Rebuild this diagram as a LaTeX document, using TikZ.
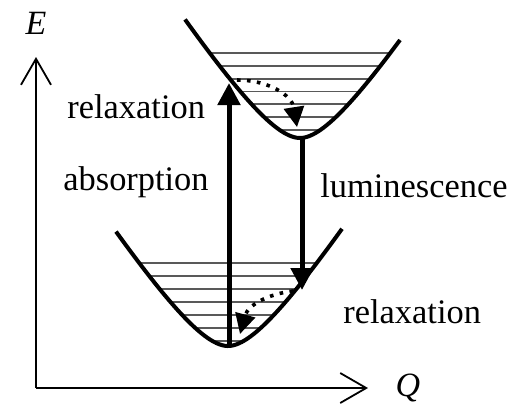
\documentclass[tikz,border=0pt]{standalone}
\usepackage{fontspec}
\setmainfont{Liberation Serif}
\usetikzlibrary{arrows.meta}
\tikzset{
  well/.style={line width=2pt},
  level/.style={black!65,line width=0.9pt},
  trans/.style={line width=2.5pt,-{Triangle[length=11pt,width=11pt]}},
  relax/.style={line width=1.8pt,dash pattern=on 1.8pt off 3.2pt,-{Triangle[length=10pt,width=10pt]}},
  axis/.style={line width=0.9pt,-{Straight Barb[length=13pt,width=15pt]}},
  lbl/.style={inner sep=0pt,anchor=base west,font=\fontsize{17.2}{20}\selectfont},
  axlbl/.style={inner sep=0pt,anchor=base,font=\fontsize{17}{19}\selectfont\itshape},
}
\begin{document}
\begin{tikzpicture}[x=0.5pt,y=-0.5pt]
\useasboundingbox (0,0) rectangle (518,403);
% vibrational levels
\foreach \yy in {53,65.8,78.6,91.4,104.2,117,129.8}{
  \pgfmathsetmacro{\h}{138-\yy}
  \pgfmathsetmacro{\d}{(0.0164*\h+sqrt((0.0164*\h)^2+4*0.02588*\h))/(2*0.02588)}
  \draw[level] (300-\d,\yy) -- (300+\d,\yy);
}
\foreach \yy in {263,276,289,302,315,328,341}{
  \pgfmathsetmacro{\h}{346-\yy}
  \pgfmathsetmacro{\d}{(0.0164*\h+sqrt((0.0164*\h)^2+4*0.02588*\h))/(2*0.02588)}
  \draw[level] (228-\d,\yy) -- (228+\d,\yy);
}
% wells
\draw[well] plot[domain=-115:100,samples=80] ({300+\x},{138-0.02588*\x*\x/(1+0.0164*abs(\x))});
\draw[well] plot[domain=-112:114,samples=80] ({228+\x},{346-0.02588*\x*\x/(1+0.0164*abs(\x))});
% axes
\coordinate (origin) at (36,388);
\coordinate (eTip) at (36,57);
\coordinate (qTip) at (368,388);
\draw[axis] (origin) -- (eTip);
\draw[axis] (origin) -- (qTip);
\node[axlbl] (eLbl) at (36,34) {E};
\node[axlbl] (qLbl) at (408,396) {Q};
% transitions
\coordinate (absS) at (229,345);
\coordinate (absE) at (229,83);
\coordinate (lumS) at (302,136);
\coordinate (lumE) at (302,290);
\draw[trans] (absS) -- (absE);
\draw[trans] (lumS) -- (lumE);
\coordinate (rlxAS) at (237,80);
\coordinate (rlxAE) at (297,127);
\coordinate (rlxBS) at (293,291);
\coordinate (rlxBE) at (240,334);
\draw[relax] (rlxAS) .. controls (268,80) and (292,95) .. (rlxAE);
\draw[relax] (rlxBS) .. controls (268,294) and (248,305) .. (rlxBE);
% labels
\node[lbl] (relaxUp) at (67,118) {relaxation};
\node[lbl] (absorb) at (63,190) {absorption};
\node[lbl] (lumin) at (320,197) {luminescence};
\node[lbl] (relaxLow) at (343,323) {relaxation};
\end{tikzpicture}
\end{document}
